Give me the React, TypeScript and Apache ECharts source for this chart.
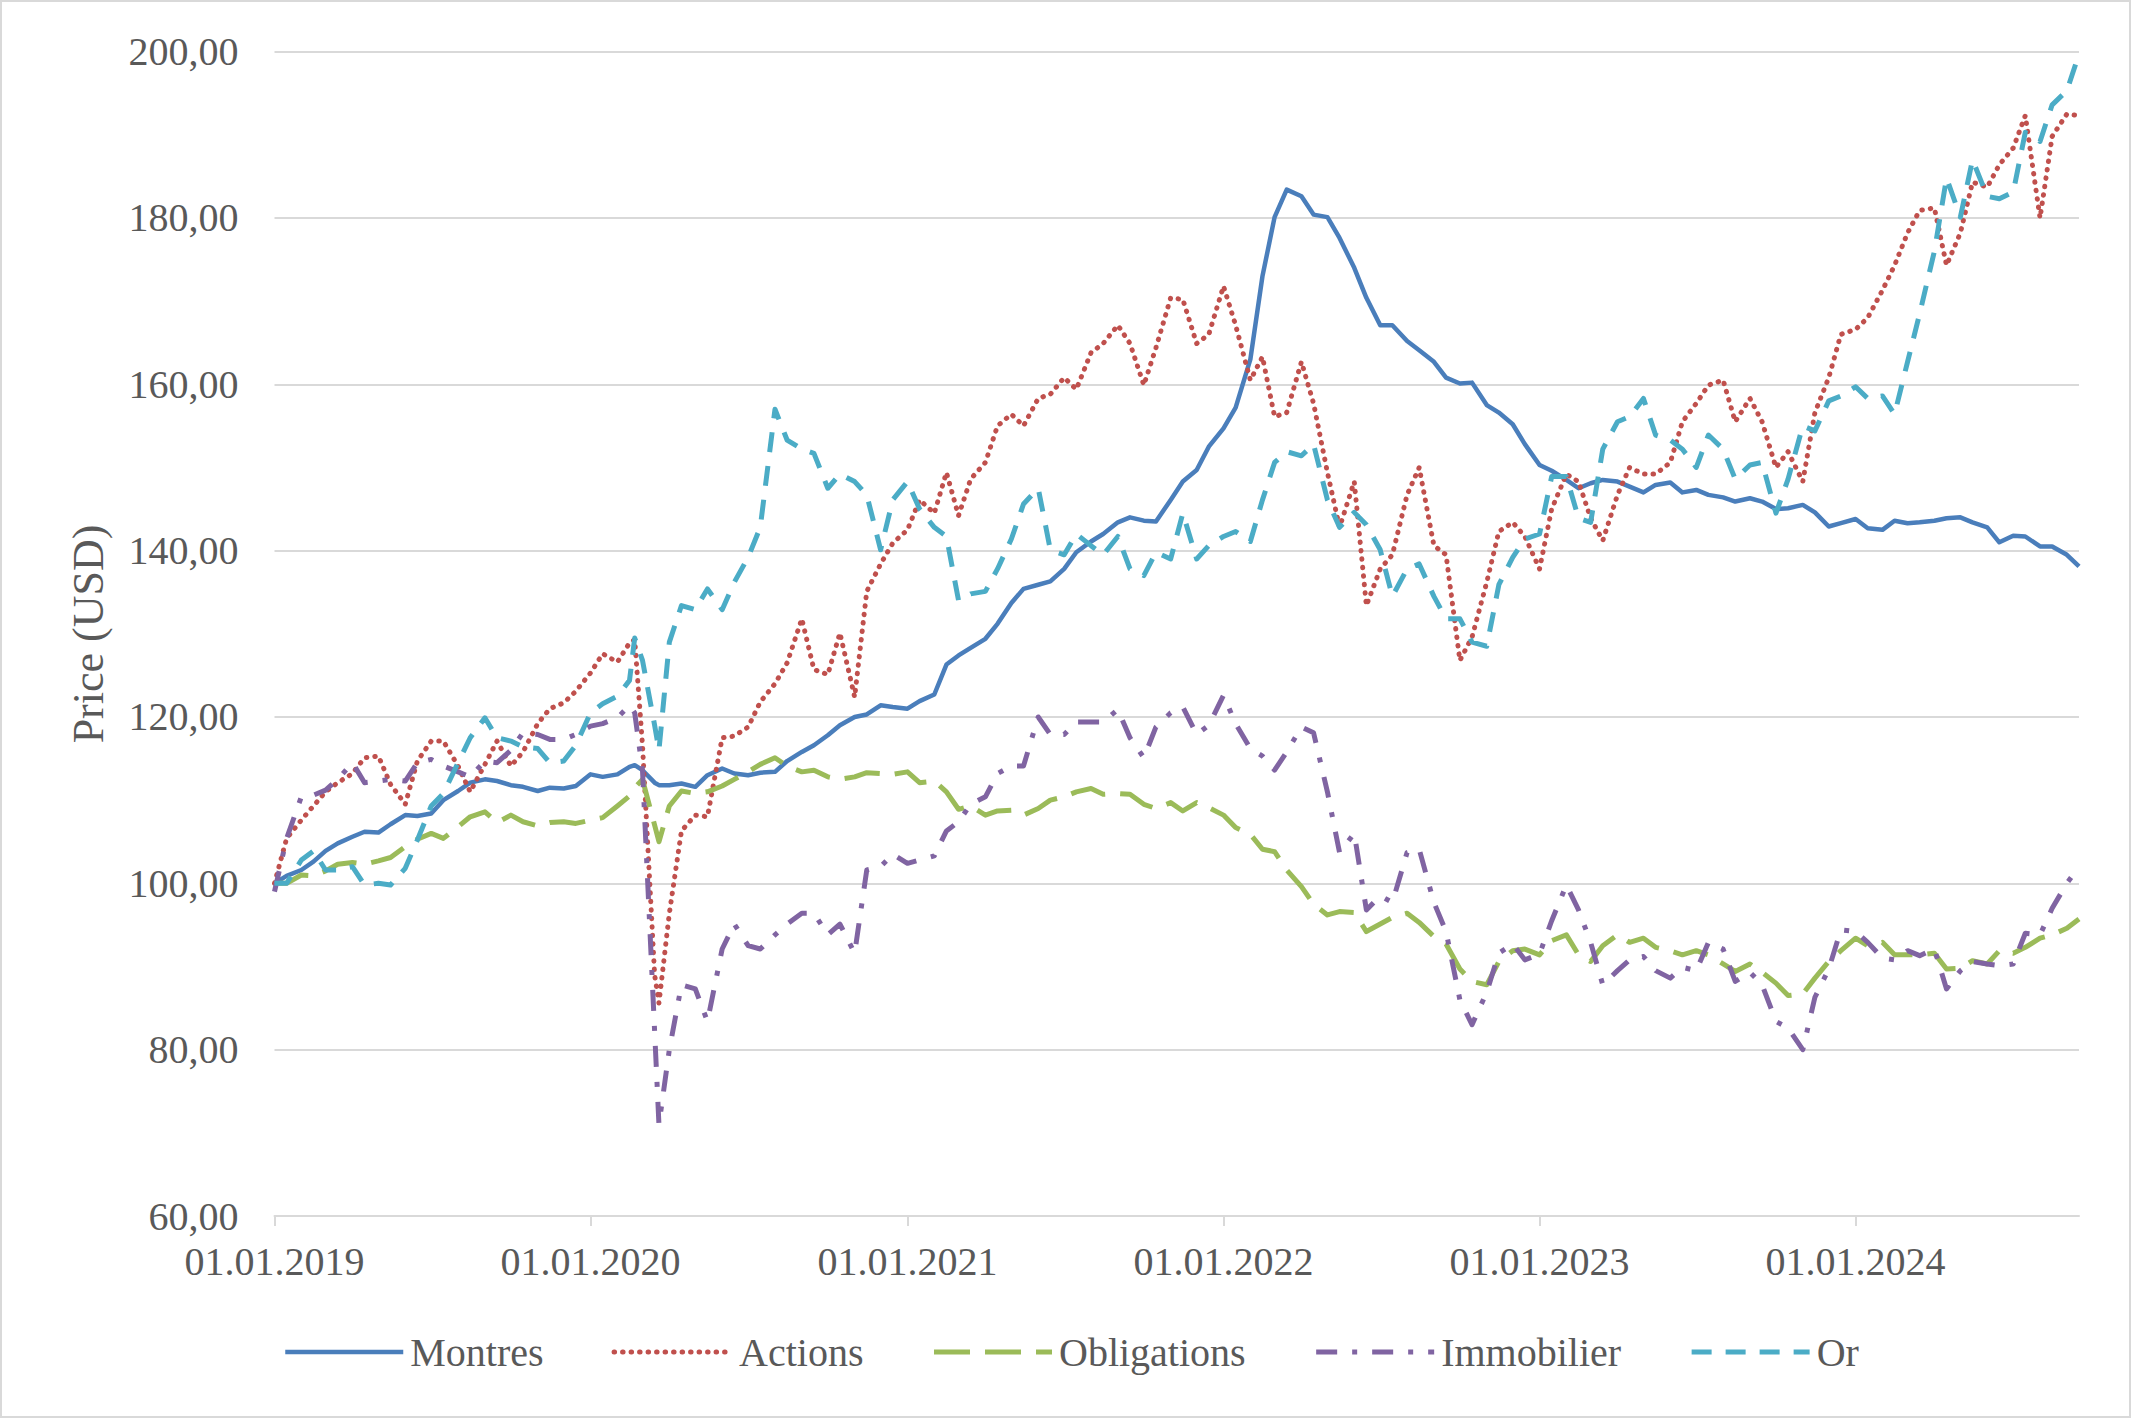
import React, { useEffect, useRef } from "react";
import * as echarts from "echarts";

// ---- Dates: 1st and 15th of every month (Jan 2019 - 15 Sep 2024), plus two COVID-crash dates ----
const EXTRA_DATES: [number, number, number][] = [
  [2020, 1, 21],
  [2020, 2, 20],
];
function buildDates(): number[] {
  const out: number[] = [];
  for (let y = 2019; y <= 2024; y++) {
    for (let mo = 0; mo < 12; mo++) {
      if (y === 2024 && mo > 8) continue;
      out.push(new Date(y, mo, 1).getTime());
      out.push(new Date(y, mo, 15).getTime());
    }
  }
  EXTRA_DATES.forEach(([y, m, d]) => out.push(new Date(y, m, d).getTime()));
  return out.sort((a, b) => a - b);
}
const DATES = buildDates();

const YEAR_TICKS = [2019, 2020, 2021, 2022, 2023, 2024].map((y) => new Date(y, 0, 1).getTime());
const Y_MIN = 60;
const Y_MAX = 200;
const Y_STEP = 20;

const SERIES_NAMES = ["Montres", "Actions", "Obligations", "Immobilier", "Or"];

// values: 2019 (24), 2020 (26 incl. 21 Feb & 20 Mar), 2021 (24), 2022 (24), 2023 (24), 2024 (18)
const MONTRES = [
  100.0, 100.9, 101.6, 102.6, 103.9, 104.8, 105.6, 106.2, 106.1, 107.1, 108.2, 108.1, 108.4, 110.0, 111.1, 112.1, 112.5, 112.3, 111.8, 111.6, 111.1, 111.5, 111.4, 111.7,
  113.1, 112.8, 113.1, 114.0, 114.2, 113.6, 112.1, 111.8, 111.8, 112.0, 111.6, 113.0, 113.8, 113.2, 113.0, 113.3, 113.4, 114.7, 115.8, 116.6, 117.8, 119.0, 120.0, 120.3, 121.4, 121.2,
  121.0, 121.9, 122.7, 126.3, 127.4, 128.3, 129.4, 131.2, 133.7, 135.4, 135.9, 136.3, 137.8, 139.8, 141.1, 142.0, 143.4, 144.0, 143.6, 143.5, 146.1, 148.3, 149.7, 152.5,
  154.7, 157.2, 163.0, 173.0, 180.1, 183.4, 182.6, 180.4, 180.1, 177.6, 174.0, 170.4, 167.1, 167.1, 165.2, 164.1, 162.7, 160.8, 160.1, 160.2, 157.5, 156.6, 155.2, 152.8,
  150.3, 149.6, 148.5, 147.5, 148.1, 148.5, 148.3, 147.7, 147.0, 147.9, 148.2, 147.0, 147.3, 146.7, 146.4, 145.9, 146.3, 145.9, 145.0, 145.1, 145.5, 144.6, 142.9, 143.3,
  143.8, 142.7, 142.5, 143.6, 143.3, 143.4, 143.6, 143.9, 144.0, 143.4, 142.8, 141.0, 141.8, 141.7, 140.5, 140.5, 139.5, 138.1,
];

const ACTIONS = [
  100.0, 105.4, 107.6, 109.3, 111.0, 112.1, 113.2, 115.1, 115.3, 111.9, 109.5, 114.7, 117.1, 117.1, 114.1, 111.0, 114.3, 117.1, 114.1, 115.8, 119.2, 121.0, 121.7, 123.1,
  125.3, 127.6, 126.6, 128.9, 129.3, 116.6, 89.0, 85.6, 96.4, 106.3, 108.2, 108.0, 117.5, 117.7, 118.8, 121.8, 124.0, 126.5, 131.8, 125.7, 125.1, 130.1, 122.4, 135.1, 138.4, 140.9,
  142.5, 146.1, 144.5, 149.4, 144.2, 148.6, 150.6, 155.0, 156.4, 155.0, 158.3, 158.8, 160.8, 159.4, 163.8, 164.9, 167.1, 164.9, 159.9, 164.4, 170.4, 170.2, 164.9, 166.0,
  171.8, 167.1, 160.5, 163.3, 156.1, 156.6, 162.7, 157.7, 149.4, 142.8, 148.3, 133.4, 137.8, 139.5, 146.7, 150.0, 140.6, 139.5, 126.8, 129.6, 136.2, 142.3, 143.4, 141.7,
  137.8, 145.0, 149.2, 148.3, 143.9, 141.2, 146.7, 150.0, 149.2, 149.2, 150.6, 155.5, 157.7, 159.9, 160.5, 155.5, 158.3, 155.5, 150.0, 151.9, 148.3, 156.6, 160.8, 166.0,
  166.6, 168.0, 171.3, 174.3, 178.2, 180.9, 181.2, 174.3, 178.2, 184.3, 183.7, 186.4, 188.4, 192.3, 180.0, 189.8, 192.5, 192.3,
];

const OBLIGATIONS = [
  100.0, 100.0, 101.0, 100.9, 101.5, 102.3, 102.5, 102.3, 102.7, 103.1, 104.4, 105.3, 106.0, 105.4, 106.8, 108.0, 108.6, 107.3, 108.2, 107.4, 106.9, 107.3, 107.4, 107.2,
  107.6, 107.9, 109.3, 110.5, 111.5, 112.5, 107.0, 105.0, 109.3, 111.1, 110.8, 111.0, 111.7, 112.5, 113.4, 114.3, 115.1, 114.1, 113.4, 113.6, 112.8, 112.5, 112.8, 113.3, 113.2, 113.1,
  113.4, 112.1, 112.3, 111.0, 108.9, 109.3, 108.2, 108.7, 108.8, 108.2, 109.0, 110.0, 110.4, 111.0, 111.4, 110.7, 110.8, 110.7, 109.5, 109.0, 109.7, 108.7, 109.7, 109.1,
  108.2, 106.7, 105.9, 104.1, 103.8, 101.6, 99.6, 97.5, 96.2, 96.6, 96.5, 94.2, 95.1, 95.9, 96.4, 95.3, 93.6, 92.7, 89.7, 88.2, 87.8, 90.6, 91.9, 92.1,
  91.4, 93.1, 93.8, 91.4, 90.6, 92.5, 93.8, 92.9, 93.4, 92.3, 91.9, 91.4, 91.9, 91.4, 90.3, 89.4, 90.3, 89.3, 88.0, 86.5, 86.7, 88.6, 90.6, 91.9,
  93.4, 92.5, 92.9, 91.4, 91.4, 91.4, 91.6, 89.7, 89.8, 90.7, 90.3, 91.9, 91.6, 92.3, 93.4, 93.8, 94.6, 95.7,
];

const IMMOBILIER = [
  99.0, 105.4, 110.4, 110.6, 111.2, 112.5, 114.5, 112.1, 112.3, 112.5, 112.3, 114.5, 114.9, 114.1, 113.4, 112.8, 114.7, 114.5, 116.0, 118.1, 117.9, 117.3, 117.3, 117.9,
  118.9, 119.2, 119.9, 121.4, 120.5, 113.6, 82.2, 71.0, 80.0, 87.8, 87.3, 83.4, 92.1, 95.1, 92.5, 92.1, 93.8, 95.1, 96.4, 96.4, 93.8, 95.1, 91.6, 101.6, 102.0, 103.5,
  102.4, 102.8, 103.3, 106.3, 107.4, 109.5, 110.4, 113.2, 114.1, 114.1, 120.0, 117.9, 117.9, 119.4, 119.4, 119.4, 120.9, 117.5, 115.1, 118.8, 120.5, 121.2, 117.9, 119.0,
  122.6, 119.2, 116.2, 115.3, 113.6, 115.8, 118.8, 118.1, 111.0, 103.7, 106.0, 96.8, 98.5, 97.7, 103.7, 104.1, 97.7, 94.2, 86.0, 83.0, 86.9, 91.6, 92.7, 90.8,
  91.5, 95.5, 99.8, 96.8, 92.9, 87.8, 89.5, 90.8, 91.2, 89.5, 88.6, 89.9, 89.5, 92.9, 92.1, 88.2, 89.3, 87.8, 83.4, 82.6, 80.0, 86.3, 89.7, 94.4,
  94.2, 92.9, 91.0, 90.8, 91.9, 91.3, 92.1, 87.3, 89.5, 90.6, 90.3, 90.1, 90.3, 94.0, 93.8, 97.0, 100.0, 102.0,
];

const OR = [
  100.0, 100.0, 102.8, 103.9, 101.6, 101.6, 102.0, 99.8, 100.0, 99.8, 101.8, 105.2, 109.3, 110.8, 114.5, 117.5, 119.9, 117.5, 117.1, 116.4, 116.2, 114.5, 114.7, 116.6,
  120.5, 121.6, 122.5, 124.4, 129.5, 126.8, 119.0, 116.0, 129.0, 133.4, 132.9, 135.4, 132.9, 136.2, 139.2, 142.8, 157.0, 153.3, 152.2, 151.7, 147.5, 149.2, 148.3, 146.7, 140.1, 146.1,
  148.3, 145.0, 142.8, 141.7, 134.0, 134.8, 135.1, 137.8, 141.4, 145.6, 147.5, 140.1, 139.5, 142.0, 140.6, 139.5, 141.7, 137.8, 137.0, 139.8, 139.0, 144.5, 139.0, 140.6,
  141.7, 142.3, 141.1, 146.1, 150.6, 151.9, 151.4, 152.8, 146.1, 142.8, 144.6, 143.1, 140.1, 134.5, 137.8, 138.4, 134.5, 131.8, 131.8, 129.0, 128.5, 135.9, 139.2, 141.4,
  142.0, 148.9, 148.9, 143.9, 143.4, 152.2, 155.5, 156.1, 158.3, 153.9, 153.3, 152.2, 150.0, 153.9, 152.2, 148.6, 150.3, 150.6, 144.5, 148.6, 155.0, 154.4, 158.0, 158.6,
  159.7, 158.3, 158.6, 156.4, 162.7, 168.5, 176.0, 184.8, 180.1, 187.0, 182.6, 182.3, 183.1, 190.3, 189.2, 193.6, 195.3, 199.7,
];

const FONT = '"Liberation Serif", "Times New Roman", serif';
const TEXT_COLOR = "#595959";
const GRID_COLOR = "#D9D9D9";

const STYLES = [
  { color: "#4A7EBB", type: "solid", cap: "butt", width: 4.5 },
  { color: "#C0504D", type: [0.5, 8], cap: "round", width: 5 },
  { color: "#9BBB59", type: [36, 15], cap: "butt", width: 5 },
  { color: "#8064A2", type: [21, 15, 5, 15], cap: "butt", width: 5 },
  { color: "#4BACC6", type: [20, 14], cap: "butt", width: 5 },
];

const VALUES = [MONTRES, ACTIONS, OBLIGATIONS, IMMOBILIER, OR];

function pad(n: number) {
  return n < 10 ? "0" + n : String(n);
}

export default function App() {
  const ref = useRef<HTMLDivElement>(null);

  useEffect(() => {
    if (!ref.current) return;
    const chart = echarts.init(ref.current, null, { renderer: "svg" });

    const series = SERIES_NAMES.map((name, i) => ({
      name,
      type: "line",
      data: VALUES[i].map((v, k) => [DATES[k], v]),
      showSymbol: false,
      symbol: "none",
      smooth: false,
      color: STYLES[i].color,
      lineStyle: {
        color: STYLES[i].color,
        width: STYLES[i].width,
        type: STYLES[i].type,
        cap: STYLES[i].cap,
        join: "round",
      },
      emphasis: { disabled: true },
    }));

    const legendData = SERIES_NAMES.map((name, i) => ({
      name,
      itemStyle: { opacity: 0 },
      lineStyle: {
        color: STYLES[i].color,
        width: STYLES[i].width,
        type: STYLES[i].type,
        cap: STYLES[i].cap,
      },
    }));

    chart.setOption({
      animation: false,
      backgroundColor: "#ffffff",
      grid: {
        left: 274.5,
        right: 52,
        top: 51.6,
        bottom: 202,
        containLabel: false,
        outerBoundsMode: "none",
      },
      xAxis: {
        type: "value",
        min: DATES[0],
        max: DATES[DATES.length - 1],
        axisLine: { show: true, lineStyle: { color: GRID_COLOR, width: 2 } },
        axisTick: {
          show: true,
          customValues: YEAR_TICKS,
          length: 10,
          lineStyle: { color: GRID_COLOR, width: 2 },
        },
        axisLabel: {
          customValues: YEAR_TICKS,
          margin: 25,
          color: TEXT_COLOR,
          fontFamily: FONT,
          fontSize: 40,
          formatter: (v: number) => {
            const d = new Date(v);
            return pad(d.getDate()) + "." + pad(d.getMonth() + 1) + "." + d.getFullYear();
          },
        },
        splitLine: { show: false },
      },
      yAxis: {
        type: "value",
        min: Y_MIN,
        max: Y_MAX,
        interval: Y_STEP,
        axisLine: { show: false },
        axisTick: { show: false },
        axisLabel: {
          margin: 36,
          color: TEXT_COLOR,
          fontFamily: FONT,
          fontSize: 40,
          formatter: (v: number) => v.toFixed(2).replace(".", ","),
        },
        splitLine: { show: true, lineStyle: { color: GRID_COLOR, width: 2 } },
      },
      legend: {
        data: legendData,
        left: 278,
        top: 1327,
        itemWidth: 118,
        itemHeight: 14,
        itemGap: 68,
        itemStyle: { opacity: 0 },
        textStyle: { color: TEXT_COLOR, fontFamily: FONT, fontSize: 40, padding: [0, 0, 0, 2] },
        selectedMode: false,
      },
      graphic: [
        {
          type: "rect",
          silent: true,
          shape: { x: 1, y: 1, width: 2129, height: 1416 },
          style: { fill: "none", stroke: GRID_COLOR, lineWidth: 2 },
        },
        {
          type: "text",
          silent: true,
          x: 88,
          y: 634,
          rotation: Math.PI / 2,
          style: {
            text: "Price (USD)",
            fill: TEXT_COLOR,
            fontFamily: FONT,
            fontSize: 44,
            align: "center",
            verticalAlign: "middle",
          },
        },
      ],
      series,
    });

    return () => chart.dispose();
  }, []);

  return (
    <div
      ref={ref}
      style={{ position: "fixed", left: 0, top: 0, width: 2131, height: 1418, background: "#fff" }}
    />
  );
}
